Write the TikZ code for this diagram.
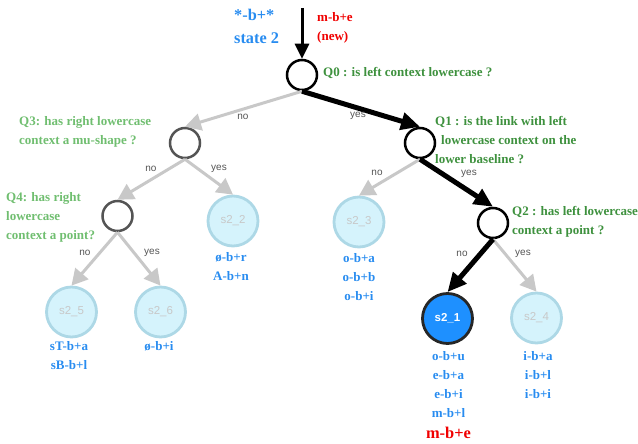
\documentclass[tikz,border=0pt]{standalone}
\usepackage{fontspec}
\setmainfont{Liberation Serif}
\setsansfont{Liberation Sans}
\usetikzlibrary{arrows.meta}
\definecolor{qdark}{RGB}{62,145,62}
\definecolor{qlight}{RGB}{112,190,112}
\definecolor{lblue}{RGB}{40,140,240}
\definecolor{lred}{RGB}{240,0,0}
\definecolor{leaffill}{RGB}{213,243,252}
\definecolor{leafdraw}{RGB}{173,216,230}
\definecolor{edgegray}{RGB}{200,200,200}
\definecolor{labgray}{RGB}{200,200,200}
\definecolor{elab}{RGB}{85,85,85}
\definecolor{hotblue}{RGB}{30,144,255}
\tikzset{
  qnode/.style={circle, draw=black, line width=2.5pt, minimum size=30pt, inner sep=0pt, fill=white},
  qgray/.style={qnode, draw=black!67},
  leaf/.style={circle, draw=leafdraw, fill=leaffill, line width=2.8pt, minimum size=50pt, inner sep=0pt, text=labgray, font=\sffamily\fontsize{11.5}{12}\selectfont},
  hotleaf/.style={leaf, draw=black!85, fill=hotblue, text=white, font=\sffamily\bfseries\fontsize{11.5}{12}\selectfont},
  gedge/.style={draw=edgegray, line width=3pt, -{Triangle[length=16pt,width=17pt]}},
  bedge/.style={draw=black, line width=5pt, -{Triangle[length=19pt,width=17pt]}},
  qtext/.style={anchor=base west, inner sep=0pt, font=\bfseries\fontsize{13}{15}\selectfont},
  ltext/.style={anchor=base, inner sep=0pt, text=lblue, font=\bfseries\fontsize{13}{15}\selectfont},
  elabel/.style={inner sep=0pt, text=elab, font=\sffamily\fontsize{10}{12}\selectfont},
}
\begin{document}
\begin{tikzpicture}[x=1pt,y=-1pt]
\useasboundingbox (0,0) rectangle (638,444);
% nodes
\node[qnode] (Q0) at (302,75) {};
\node[qgray] (Q3) at (185,143) {};
\node[qnode] (Q1) at (420,143) {};
\node[qgray] (Q4) at (117.5,216) {};
\node[qnode] (Q2) at (493,223) {};
\node[leaf] (s22) at (233,221) {s2\_2};
\node[leaf] (s23) at (359,222) {s2\_3};
\node[leaf] (s25) at (71.5,312) {s2\_5};
\node[leaf] (s26) at (160.5,312) {s2\_6};
\node[hotleaf] (s21) at (447.5,318.5) {s2\_1};
\node[leaf] (s24) at (536.5,318) {s2\_4};
\coordinate (in) at (302,8);
% edges
\draw[gedge] (Q0.south) -- (Q3.north);
\draw[gedge] (Q3.south) -- (Q4.north);
\draw[gedge] (Q3.south) -- (s22.north);
\draw[gedge] (Q4.south) -- (s25.north);
\draw[gedge] (Q4.south) -- (s26.north);
\draw[gedge] (Q1.south) -- (s23.north);
\draw[gedge] (Q2.south) -- (s24.north);
\draw[bedge] (Q0.south) -- (Q1.north);
\draw[bedge] (Q1.south) -- (Q2.north);
\draw[bedge] (Q2.south) -- (s21.north);
\draw[draw=black, line width=3pt, -{Triangle[length=15pt,width=14pt]}] (in) -- (Q0.north);
% edge labels
\node[elabel] (l1) at (243,117) {no};
\node[elabel] (l2) at (358,116) {yes};
\node[elabel] (l3) at (151,169) {no};
\node[elabel] (l4) at (219,169) {yes};
\node[elabel] (l5) at (377,173) {no};
\node[elabel] (l6) at (469,174) {yes};
\node[elabel] (l7) at (85,253) {no};
\node[elabel] (l8) at (152,253) {yes};
\node[elabel] (l9) at (462,254) {no};
\node[elabel] (l10) at (523,254) {yes};
% header
\node[anchor=base west, inner sep=0pt, text=lblue, font=\bfseries\fontsize{16.3}{18}\selectfont] (h1) at (234,21) {*-b+*};
\node[anchor=base west, inner sep=0pt, text=lblue, font=\bfseries\fontsize{16.3}{18}\selectfont] (h2) at (234,44) {state 2};
\node[anchor=base west, inner sep=0pt, text=lred, font=\bfseries\fontsize{13}{15}\selectfont] (h3) at (317,22) {m-b+e};
\node[anchor=base west, inner sep=0pt, text=lred, font=\bfseries\fontsize{13}{15}\selectfont] (h4) at (317,41) {(new)};
% questions
\node[qtext, text=qdark] (t0) at (323,77) {Q0 : is left context lowercase ?};
\node[qtext, text=qdark] (t1a) at (435,125) {Q1 : is the link with left};
\node[qtext, text=qdark] (t1b) at (441,144) {lowercase context on the};
\node[qtext, text=qdark] (t1c) at (435,163) {lower baseline ?};
\node[qtext, text=qdark] (t2a) at (512,215) {Q2 : has left lowercase};
\node[qtext, text=qdark] (t2b) at (512,234) {context a point ?};
\node[qtext, text=qlight] (t3a) at (19,125) {Q3: has right lowercase};
\node[qtext, text=qlight] (t3b) at (19,144) {context a mu-shape ?};
\node[qtext, text=qlight] (t4a) at (6,201) {Q4: has right};
\node[qtext, text=qlight] (t4b) at (6,220) {lowercase};
\node[qtext, text=qlight] (t4c) at (6,239) {context a point?};
% leaf lists
\node[ltext] (a1) at (231,261) {ø-b+r};
\node[ltext] (a2) at (231,280) {A-b+n};
\node[ltext] (b1) at (359,262) {o-b+a};
\node[ltext] (b2) at (359,281) {o-b+b};
\node[ltext] (b3) at (359,300) {o-b+i};
\node[ltext] (c1) at (69,350) {sT-b+a};
\node[ltext] (c2) at (69,369) {sB-b+l};
\node[ltext] (d1) at (159,350) {ø-b+i};
\node[ltext] (e1) at (448.5,360) {o-b+u};
\node[ltext] (e2) at (448.5,379) {e-b+a};
\node[ltext] (e3) at (448.5,398) {e-b+i};
\node[ltext] (e4) at (448.5,417) {m-b+l};
\node[ltext, text=lred, font=\bfseries\fontsize{16.4}{18}\selectfont] (e5) at (448.5,438) {m-b+e};
\node[ltext] (f1) at (538,360) {i-b+a};
\node[ltext] (f2) at (538,379) {i-b+l};
\node[ltext] (f3) at (538,398) {i-b+i};
\end{tikzpicture}
\end{document}
